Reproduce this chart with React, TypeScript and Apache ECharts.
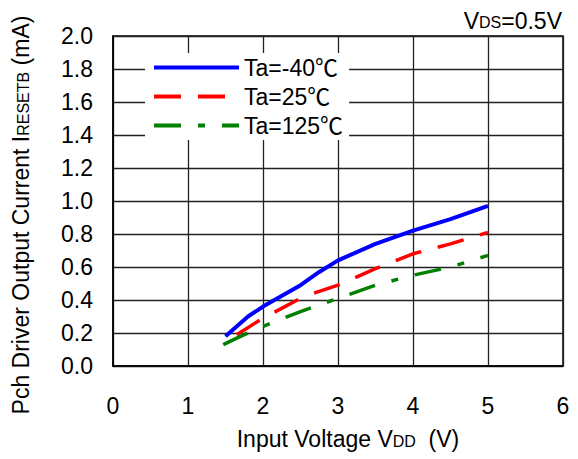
import React, { useEffect, useRef } from 'react';
import * as echarts from 'echarts';

const FF = "'Liberation Sans', Arial, 'Noto Sans CJK JP', sans-serif";

const seriesNames = ['Ta=-40℃', 'Ta=25℃', 'Ta=125℃'];
const seriesColors = ['#0000ff', '#ff0000', '#008000'];

const vddM40 = [1.5, 1.8, 2.0, 2.5, 2.75, 3.0, 3.5, 4.0, 4.5, 5.0];
const iM40 = [0.18, 0.30, 0.36, 0.49, 0.57, 0.64, 0.74, 0.82, 0.89, 0.97];

const vdd25 = [1.65, 2.0, 2.5, 2.7, 3.0, 3.5, 4.0, 4.5, 5.0];
const i25 = [0.19, 0.29, 0.41, 0.445, 0.49, 0.59, 0.68, 0.74, 0.81];

const vdd125 = [1.47, 1.7, 2.0, 2.5, 2.75, 3.0, 3.5, 4.0, 4.5, 5.0];
const i125 = [0.13, 0.18, 0.24, 0.33, 0.37, 0.41, 0.49, 0.55, 0.60, 0.67];

const xMin = 0, xMax = 6, xStep = 1;
const yMin = 0, yMax = 2, yStep = 0.2;

const titleText = '{v|V}{s|DS}{v|=0.5V}';
const yTitle = '{v|Pch Driver Output Current I}{s|RESETB}{v| (mA)}';
const xTitle = '{v|Input Voltage V}{s|DD}{v|  (V)}';

const zip = (xs: number[], ys: number[]) => xs.map((x, i) => [x, ys[i]]);

export default function App() {
  const ref = useRef<HTMLDivElement>(null);
  useEffect(() => {
    if (!ref.current) return;
    const chart = echarts.init(ref.current, undefined, { renderer: 'svg' });
    const rich = {
      v: { fontSize: 23, fontFamily: FF, color: '#000', verticalAlign: 'bottom' as const },
      s: { fontSize: 16, fontFamily: FF, color: '#000', verticalAlign: 'bottom' as const, padding: [0, 0, 1, 0] },
    };
    const lineTypes: any[] = ['solid', [27, 17], [27, 17, 7, 17]];
    const data = [zip(vddM40, iM40), zip(vdd25, i25), zip(vdd125, i125)];
    chart.setOption({
      animation: false,
      backgroundColor: '#fff',
      grid: { left: 113, right: 15, top: 36, bottom: 93, show: true, borderColor: '#000', borderWidth: 1.5 },
      xAxis: {
        type: 'value', min: xMin, max: xMax, interval: xStep,
        axisLine: { show: true, lineStyle: { color: '#000', width: 1.5 } },
        axisTick: { show: false },
        axisLabel: { color: '#000', fontSize: 23, fontFamily: FF, margin: 28 },
        splitLine: { show: true, lineStyle: { color: '#222', width: 1.3 } },
      },
      yAxis: {
        type: 'value', min: yMin, max: yMax, interval: yStep,
        axisLine: { show: true, lineStyle: { color: '#000', width: 1.5 } },
        axisTick: { show: false },
        axisLabel: { color: '#000', fontSize: 23, fontFamily: FF, margin: 20, formatter: (v: number) => v.toFixed(1) },
        splitLine: { show: true, lineStyle: { color: '#222', width: 1.3 } },
      },
      legend: {
        orient: 'vertical', left: 145, top: 53,
        backgroundColor: '#fff', padding: [3, 6, 3, 7],
        itemWidth: 85, itemHeight: 14, itemGap: 6,
        itemStyle: { opacity: 0 },
        lineStyle: { width: 4 },
        textStyle: { fontSize: 23, fontFamily: FF, color: '#000' },
        data: seriesNames,
      },
      series: seriesNames.map((name, i) => ({
        name, type: 'line', data: data[i], symbol: 'none', smooth: false,
        lineStyle: { color: seriesColors[i], width: i === 0 ? 4 : 3.5, type: lineTypes[i] },
        itemStyle: { color: seriesColors[i] },
      })),
      graphic: [
        { type: 'text', right: 16, top: 9, style: { text: titleText, rich } },
        { type: 'text', x: 21, y: 215, rotation: Math.PI / 2, style: { text: yTitle, rich, align: 'center', verticalAlign: 'middle' } },
        { type: 'text', x: 348, y: 439, style: { text: xTitle, rich, align: 'center', verticalAlign: 'middle' } },
      ],
    });
    return () => chart.dispose();
  }, []);
  return <div ref={ref} style={{ position: 'absolute', left: 0, top: 0, width: 578, height: 459 }} />;
}
